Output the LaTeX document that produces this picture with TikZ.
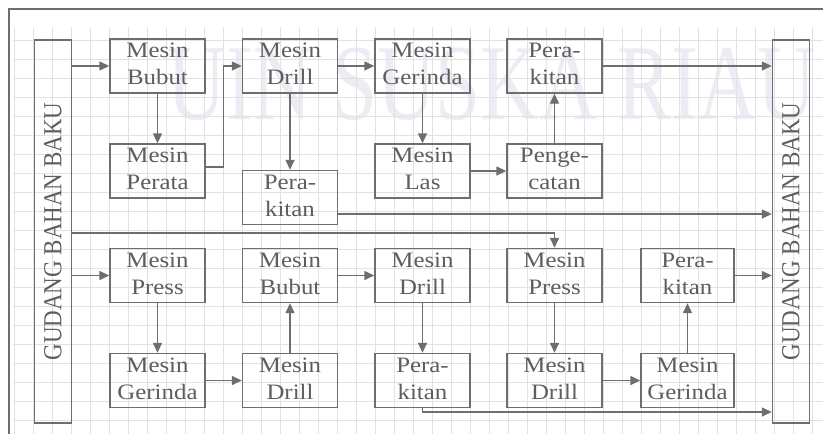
\documentclass[tikz,border=0pt]{standalone}
\usepackage{fontspec}
\setmainfont{Liberation Serif}
\usetikzlibrary{arrows.meta,calc}
\definecolor{ink}{HTML}{6E6E6E}
\definecolor{txt}{HTML}{5E5E5E}
\definecolor{gridc}{HTML}{E2E2E2}
\definecolor{wmark}{HTML}{ECECF5}
% two-line label, slightly widened
\newcommand{\twoline}[2]{\scalebox{1.13}[1]{\begin{tabular}{@{}c@{}}#1\\#2\end{tabular}}}
\tikzset{
  mbox/.style={draw=ink, line width=1.4pt, minimum width=95pt, minimum height=52pt,
    inner sep=0pt, text=txt, font=\fontsize{22}{27}\selectfont},
  store/.style={draw=ink, line width=1.4pt, minimum width=37pt, minimum height=383pt,
    inner sep=0pt, text=txt, font=\fontsize{23}{27}\selectfont},
  flow/.style={draw=ink, line width=1.4pt, -{Triangle[length=10pt,width=9pt]}},
}
\begin{document}
\begin{tikzpicture}[x=1pt, y=-1pt]
\useasboundingbox (0,0) rectangle (823,434);
\fill[white] (0,0) rectangle (823,434);

% watermark
\node[text=wmark, inner sep=0pt, font=\fontsize{108}{108}\selectfont] (wm) at (492,84)
  {\scalebox{0.75}[1]{UIN SUSKA RIAU}};

% background grid
\foreach \gx in {14,33,...,823} \draw[gridc, line width=0.8pt] (\gx,27) -- (\gx,434);
\foreach \gy in {40,59,...,434} \draw[gridc, line width=0.8pt] (13,\gy) -- (823,\gy);

% outer frame
\draw[ink, line width=2.5pt] (9,436) -- (9,9) -- (823,9);

% storage (raw material warehouse)
\node[store] (gl) at (53,231.5) {\rotatebox{90}{\scalebox{1}[1.13]{GUDANG BAHAN BAKU}}};
\node[store] (gr) at (791,231.5) {\rotatebox{90}{\scalebox{1}[1.13]{GUDANG BAHAN BAKU}}};

% upper process lines
\node[mbox] (b1) at (157.5,66) {\twoline{Mesin}{Bubut}};
\node[mbox] (d1) at (290,66) {\twoline{Mesin}{Drill}};
\node[mbox] (g1) at (422.5,66) {\twoline{Mesin}{Gerinda}};
\node[mbox] (r1) at (554.5,66) {\twoline{Pera-}{kitan}};
\node[mbox] (p1) at (157.5,171) {\twoline{Mesin}{Perata}};
\node[mbox] (r2) at (290,197.5) {\twoline{Pera-}{kitan}};
\node[mbox] (l1) at (422.5,171) {\twoline{Mesin}{Las}};
\node[mbox] (c1) at (554.5,171) {\twoline{Penge-}{catan}};

% lower process lines
\node[mbox] (s1) at (157.5,275.5) {\twoline{Mesin}{Press}};
\node[mbox] (b2) at (290,275.5) {\twoline{Mesin}{Bubut}};
\node[mbox] (d2) at (422.5,275.5) {\twoline{Mesin}{Drill}};
\node[mbox] (s2) at (554.5,275.5) {\twoline{Mesin}{Press}};
\node[mbox, minimum width=93pt] (r3) at (687.5,275.5) {\twoline{Pera-}{kitan}};
\node[mbox] (g2) at (157.5,380.5) {\twoline{Mesin}{Gerinda}};
\node[mbox] (d3) at (290,380.5) {\twoline{Mesin}{Drill}};
\node[mbox] (r4) at (422.5,380.5) {\twoline{Pera-}{kitan}};
\node[mbox] (d4) at (554.5,380.5) {\twoline{Mesin}{Drill}};
\node[mbox, minimum width=93pt] (g3) at (687.5,380.5) {\twoline{Mesin}{Gerinda}};

% connectors, upper part
\draw[flow] (gl.east |- b1.west) -- (b1.west);
\draw[flow] (b1.south) -- (p1.north);
\draw[flow] ($(p1.east)+(0,-4)$) -- ++(18,0) |- (d1.west);
\draw[flow] (d1.east) -- (g1.west);
\draw[flow] (d1.south) -- (r2.north);
\draw[flow] (g1.south) -- (l1.north);
\draw[flow] (l1.east) -- (c1.west);
\draw[flow] (c1.north) -- (r1.south);
\draw[flow] (r1.east) -- (r1.east -| gr.west);
\draw[flow] ($(r2.east)+(0,16.5)$) -- ($(gr.west)+(0,-17.5)$);

% connectors, lower part
\draw[flow] ($(gl.east)+(0,1.5)$) -| (s2.north);
\draw[flow] (gl.east |- s1.west) -- (s1.west);
\draw[flow] (s1.south) -- (g2.north);
\draw[flow] (g2.east) -- (d3.west);
\draw[flow] (d3.north) -- (b2.south);
\draw[flow] (b2.east) -- (d2.west);
\draw[flow] (d2.south) -- (r4.north);
\draw[flow] (r4.south) |- ($(gr.west)+(0,180.5)$);
\draw[flow] (s2.south) -- (d4.north);
\draw[flow] (d4.east) -- (g3.west);
\draw[flow] (g3.north) -- (r3.south);
\draw[flow] (r3.east) -- (r3.east -| gr.west);
\end{tikzpicture}
\end{document}
